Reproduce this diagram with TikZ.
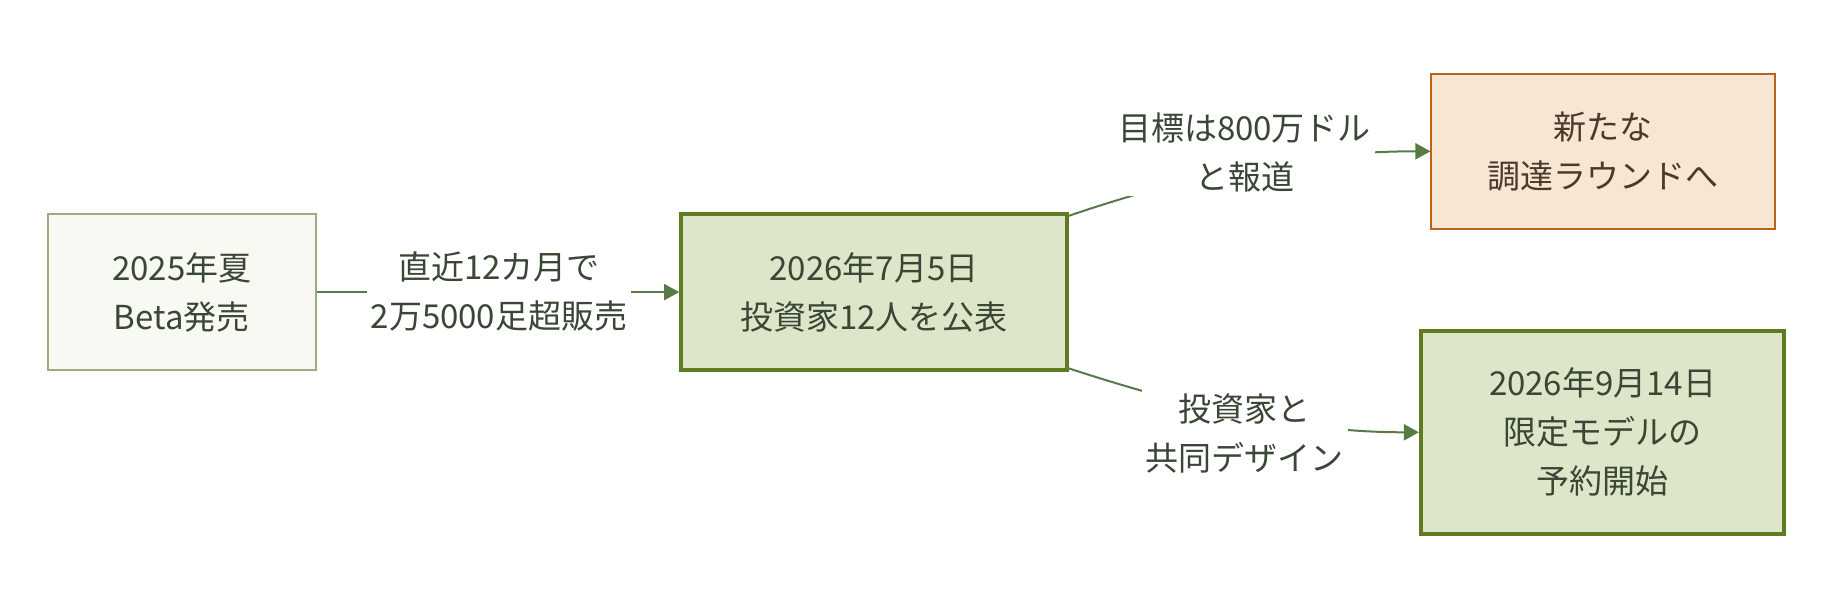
\documentclass[tikz,border=0pt]{standalone}
\usepackage{fontspec}
\setmainfont{Noto Sans CJK JP}
\usetikzlibrary{arrows.meta}
\definecolor{edgec}{HTML}{587A45}
\definecolor{afill}{HTML}{F8F9F2}
\definecolor{adraw}{HTML}{98AE80}
\definecolor{gfill}{HTML}{DDE6C8}
\definecolor{gdraw}{HTML}{5E7B22}
\definecolor{ofill}{HTML}{F6E6D3}
\definecolor{odraw}{HTML}{B8651B}
\definecolor{txt}{HTML}{3A4636}
\definecolor{btxt}{HTML}{4A3A2A}
\tikzset{
  box/.style={rectangle, inner sep=0pt, align=center, text=txt,
    font=\fontsize{33}{49}\selectfont},
  lightbox/.style={box, fill=afill, draw=adraw, line width=2pt},
  greenbox/.style={box, fill=gfill, draw=gdraw, line width=4pt},
  orangebox/.style={box, fill=ofill, draw=odraw, line width=2pt, text=btxt},
  elabel/.style={fill=white, inner sep=4pt, align=center, text=txt,
    font=\fontsize{33}{49}\selectfont},
  conn/.style={draw=edgec, line width=2pt,
    -{Triangle[length=15pt,width=16pt]}, edgec},
}
\begin{document}
\begin{tikzpicture}[x=1pt,y=-1pt]
\useasboundingbox (0,0) rectangle (1832,612);
\node[lightbox, minimum width=267.6pt, minimum height=156.6pt] (a) at (181.7,292.1) {2025年夏\\Beta発売};
\node[greenbox, minimum width=385.6pt, minimum height=156.6pt] (b) at (874,292.1) {2026年7月5日\\投資家12人を公表};
\node[orangebox, minimum width=343.5pt, minimum height=155.4pt] (c) at (1603.2,151.3) {新たな\\調達ラウンドへ};
\node[greenbox, minimum width=363.4pt, minimum height=203.3pt] (d) at (1602.6,432.3) {2026年9月14日\\限定モデルの\\予約開始};
\coordinate (bne) at ([yshift=-4pt]b.north east);
\coordinate (bse) at ([yshift=4pt]b.south east);
\draw[conn] (a.east) -- (b.west);
\draw[conn] (bne) .. controls (1160,185) and (1280,151.3) .. (c.west);
\draw[conn] (bse) .. controls (1160,398) and (1280,432.3) .. (d.west);
\node[elabel] (la) at (499,291) {直近12カ月で\\2万5000足超販売};
\node[elabel] (lb) at (1244.5,152) {目標は800万ドル\\と報道};
\node[elabel] (lc) at (1244.5,433) {投資家と\\共同デザイン};
\end{tikzpicture}
\end{document}
